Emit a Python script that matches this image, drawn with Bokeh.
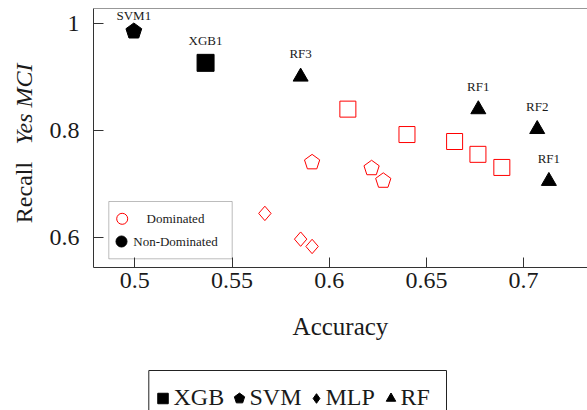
import math
from bokeh.plotting import figure
from bokeh.models import Range1d, FixedTicker, Label, BoxAnnotation, Span
from bokeh.layouts import column, row
from bokeh.embed import file_html
from bokeh.resources import INLINE
from bokeh.core.properties import value

# ---------------- data ----------------
x_ticks = [0.5, 0.55, 0.6, 0.65, 0.7]
x_tick_labels = ["0.5", "0.55", "0.6", "0.65", "0.7"]
y_ticks = [0.6, 0.8, 1.0]
y_tick_labels = ["0.6", "0.8", "1"]

# non-dominated
xgb_nd_acc = [0.5364]
xgb_nd_rec = [0.927]
xgb_nd_lab = ["XGB1"]
svm_nd_acc = [0.4995]
svm_nd_rec = [0.986]
svm_nd_lab = ["SVM1"]
rf_nd_acc = [0.5853, 0.6767, 0.707, 0.713]
rf_nd_rec = [0.901, 0.840, 0.803, 0.706]
rf_nd_lab = ["RF3", "RF1", "RF2", "RF1"]

# dominated
xgb_d_acc = [0.6096, 0.640, 0.6645, 0.6765, 0.6888]
xgb_d_rec = [0.8405, 0.793, 0.780, 0.756, 0.7315]
svm_d_acc = [0.5912, 0.6218, 0.6278]
svm_d_rec = [0.741, 0.730, 0.7065]
mlp_d_acc = [0.5669, 0.5853, 0.5912]
mlp_d_rec = [0.6456, 0.5975, 0.5838]

status_labels = ["Dominated", "Non-Dominated"]
model_labels = ["XGB", "SVM", "MLP", "RF"]
y_label_parts = ["Recall", "Yes MCI"]

# ---------------- layout (page pixels) ----------------
FONT = "Liberation Serif"
TXT = "#1a1a1a"
AX = "#333333"
PW = 587
LW = 45                     # width of the y-label strip
FL, FT = 93, 8              # frame left / top on the page
FW, FH = PW - FL, 259
BB = 90                     # bottom border
H1 = FT + FH + BB
H2 = 410 - H1
x0 = 0.47875
x1 = x0 + FW / 1944.0
y1 = 1.0286
y0 = y1 - FH / 535.0
SX = FW / (x1 - x0)
SY = FH / (y1 - y0)


def dx(px):  # page px -> data x
    return x0 + (px - FL) / SX


def dy(py):  # page px -> data y
    return y1 - (py - FT) / SY


def polys(xs, ys, kind, sx, sy, r):
    out_x, out_y = [], []
    for cx, cy in zip(xs, ys):
        if kind == "pentagon":
            ang = [math.pi / 2 + k * 2 * math.pi / 5 for k in range(5)]
            out_x.append([cx + r * math.cos(a) / sx for a in ang])
            out_y.append([cy + r * math.sin(a) / sy for a in ang])
        else:  # diamond, r = (half width, half height)
            hw, hh = r
            out_x.append([cx, cx + hw / sx, cx, cx - hw / sx])
            out_y.append([cy + hh / sy, cy, cy - hh / sy, cy])
    return out_x, out_y


p = figure(width=PW - LW, height=H1, x_range=Range1d(x0, x1), y_range=Range1d(y0, y1),
           output_backend="svg", toolbar_location=None,
           min_border_left=FL - LW, min_border_right=0, min_border_top=FT,
           min_border_bottom=BB)
p.outline_line_color = None
p.grid.visible = False
p.background_fill_color = "white"
p.border_fill_color = "white"

for ax in (p.xaxis[0], p.yaxis[0]):
    ax.axis_line_color = AX
    ax.major_tick_line_color = AX
    ax.major_tick_in = 10
    ax.major_tick_out = 0
    ax.minor_tick_in = 0
    ax.minor_tick_out = 0
    ax.major_label_text_font = FONT
    ax.major_label_text_font_size = "24px"
    ax.major_label_text_color = TXT

p.xaxis.ticker = FixedTicker(ticks=x_ticks)
p.xaxis.major_label_overrides = {t: l for t, l in zip(x_ticks, x_tick_labels)}
p.yaxis.ticker = FixedTicker(ticks=y_ticks)
p.yaxis.major_label_overrides = {t: l for t, l in zip(y_ticks, y_tick_labels)}
p.xaxis.major_label_standoff = 5
p.yaxis.major_label_standoff = 14
p.xaxis.axis_label = "Accuracy"
p.xaxis.axis_label_text_font = FONT
p.xaxis.axis_label_text_font_size = "25px"
p.xaxis.axis_label_text_font_style = "normal"
p.xaxis.axis_label_text_color = TXT
p.xaxis.axis_label_standoff = 22

p.add_layout(Span(location=y1, dimension="width", line_color=AX, line_width=1))

# dominated (red, open)
p.scatter(xgb_d_acc, xgb_d_rec, marker="square", size=16, fill_color=None,
          line_color="red", line_width=1)
px_, py_ = polys(svm_d_acc, svm_d_rec, "pentagon", SX, SY, 8)
p.patches(px_, py_, fill_color=None, line_color="red", line_width=1)
px_, py_ = polys(mlp_d_acc, mlp_d_rec, "diamond", SX, SY, (6.2, 7.2))
p.patches(px_, py_, fill_color=None, line_color="red", line_width=1)

# non-dominated (black, filled)
p.scatter(xgb_nd_acc, xgb_nd_rec, marker="square", size=17, fill_color="black",
          line_color="black")
px_, py_ = polys(svm_nd_acc, svm_nd_rec, "pentagon", SX, SY, 8.3)
p.patches(px_, py_, fill_color="black", line_color="black")
p.scatter(rf_nd_acc, rf_nd_rec, marker="triangle", size=15, fill_color="black",
          line_color="black")

for xs, ys, labs, off in ((xgb_nd_acc, xgb_nd_rec, xgb_nd_lab, -22),
                          (svm_nd_acc, svm_nd_rec, svm_nd_lab, -16),
                          (rf_nd_acc, rf_nd_rec, rf_nd_lab, -23)):
    p.text(xs, ys, text=labs, text_font=value(FONT), text_font_size="13px",
           text_align="center", text_baseline="middle", y_offset=off,
           text_color=TXT)

# inner legend
p.add_layout(BoxAnnotation(left=dx(108.3), right=dx(231.7), top=dy(201),
                           bottom=dy(258.3), fill_color="white", fill_alpha=1,
                           line_color="#222222", line_width=1, level="underlay"))
p.scatter([dx(121.7)], [dy(218.3)], marker="circle", size=11,
          fill_color=None, line_color="red", line_width=1)
p.scatter([dx(121)], [dy(241)], marker="circle", size=11,
          fill_color="black", line_color="black")
for lab, cy in zip(status_labels, (218, 241)):
    p.add_layout(Label(x=dx(175), y=dy(cy), text=lab, text_align="center",
                       text_baseline="middle", text_font=FONT, text_font_size="13px",
                       text_color=TXT))


# ---------------- y label strip: two stacked strips, each with an axis label ----------------
def label_strip(text, style, top, bottom, height, y_start_page):
    """Strip of given height; its frame spans page y [top, bottom] so the
    axis label is centred there."""
    f = figure(width=LW, height=height, x_range=Range1d(0, 1), y_range=Range1d(0, 1),
               output_backend="svg", toolbar_location=None,
               min_border_left=40, min_border_right=0,
               min_border_top=top - y_start_page,
               min_border_bottom=y_start_page + height - bottom,
               x_axis_type=None)
    f.outline_line_color = None
    f.grid.visible = False
    f.background_fill_color = None
    f.border_fill_color = None
    ya = f.yaxis[0]
    ya.ticker = FixedTicker(ticks=[])
    ya.axis_line_color = None
    ya.major_tick_in = 0
    ya.major_tick_out = 0
    ya.minor_tick_in = 0
    ya.minor_tick_out = 0
    ya.major_label_text_font_size = "0px"
    ya.axis_label = text
    ya.axis_label_text_font = FONT
    ya.axis_label_text_font_size = "24px"
    ya.axis_label_text_font_style = style
    ya.axis_label_text_color = TXT
    ya.axis_label_standoff = 4
    return f


SPLIT = 157
pl_top = label_strip(y_label_parts[1], "italic", 55, 152, SPLIT, 0)
pl_bot = label_strip(y_label_parts[0], "normal", 162, 222, H1 - SPLIT, SPLIT)
pl = column(pl_top, pl_bot)

# ---------------- bottom legend ----------------
p2 = figure(width=PW, height=H2, x_range=Range1d(0, PW), y_range=Range1d(0, H2),
            output_backend="svg", toolbar_location=None, min_border=0,
            x_axis_type=None, y_axis_type=None)
p2.outline_line_color = None
p2.grid.visible = False


def by(page_y):
    return H2 - (page_y - H1)


p2.quad(left=[148.3], right=[446], top=[by(370)], bottom=[by(425)],
        fill_color="white", line_color="#222222", line_width=1)
mark_x = [162.5, 239, 316, 390.5]
text_x = [173, 249, 325, 400]
MY = 398
TY = 396
p2.scatter([mark_x[0]], [by(MY)], marker="square", size=10.5, fill_color="black",
           line_color="black")
px_, py_ = polys([mark_x[1]], [by(MY)], "pentagon", 1, 1, 5.4)
p2.patches(px_, py_, fill_color="black", line_color="black")
px_, py_ = polys([mark_x[2]], [by(MY)], "diamond", 1, 1, (3.4, 4.8))
p2.patches(px_, py_, fill_color="black", line_color="black")
p2.scatter([mark_x[3]], [by(MY)], marker="triangle", size=9.5, fill_color="black",
           line_color="black")
p2.text(text_x, [by(TY)] * 4, text=model_labels, text_font=value(FONT),
        text_font_size="24px", text_align="left", text_baseline="middle",
        text_color=TXT)

layout = column(row(pl, p), p2)
open("out.html", "w").write(file_html(layout, INLINE))
